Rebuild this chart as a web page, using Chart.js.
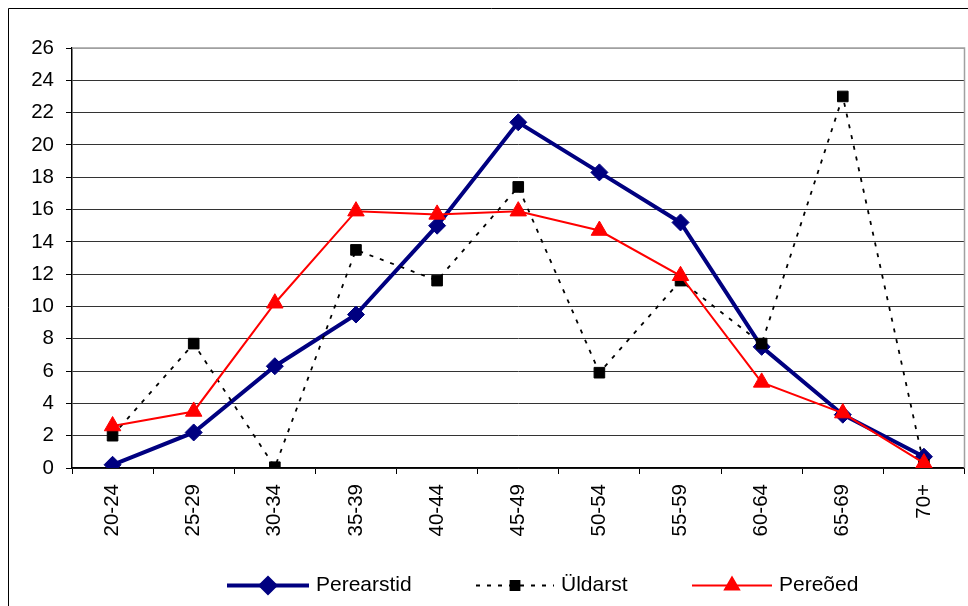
<!DOCTYPE html>
<html>
<head>
<meta charset="utf-8">
<script src="https://cdn.jsdelivr.net/npm/chart.js@4.4.0/dist/chart.umd.min.js"></script>
<style>
html, body { margin: 0; padding: 0; background: #fff; overflow: hidden; }
#wrap { width: 968px; height: 606px; overflow: hidden; }
</style>
</head>
<body>
<div id="wrap"><canvas id="ageChart" width="975" height="606"></canvas></div>
<script>
var ageGroups = ['20-24', '25-29', '30-34', '35-39', '40-44', '45-49', '50-54', '55-59', '60-64', '65-69', '70+']
var perearstid = [0.2, 2.2, 6.3, 9.5, 15.0, 21.4, 18.3, 15.2, 7.5, 3.3, 0.7]
var uldarst = [2.0, 7.7, 0.05, 13.5, 11.6, 17.4, 5.9, 11.6, 7.7, 23.0, 0.2]
var pereoed = [2.6, 3.5, 10.2, 15.9, 15.7, 15.9, 14.7, 11.9, 5.3, 3.4, 0.3]
var yTicks = { min: 0, max: 26, step: 2 }

var fontFamily = '"Liberation Sans", Arial, sans-serif'

// frame round the whole chart and grey border of the plot area
var framePlugin = {
  id: 'frame',
  beforeDraw: function (chart) {
    var ctx = chart.ctx
    ctx.save()
    ctx.fillStyle = '#fff'
    ctx.fillRect(0, 0, chart.width, chart.height)
    ctx.strokeStyle = '#000'
    ctx.lineWidth = 1
    ctx.beginPath()
    ctx.moveTo(8.5, chart.height)
    ctx.lineTo(8.5, 8.5)
    ctx.lineTo(chart.width, 8.5)
    ctx.stroke()
    ctx.restore()
  },
  afterDraw: function (chart) {
    var a = chart.chartArea
    var ctx = chart.ctx
    ctx.save()
    ctx.strokeStyle = '#a0a0a0'
    ctx.lineWidth = 1.5
    ctx.beginPath()
    ctx.moveTo(a.left, a.top)
    ctx.lineTo(a.right, a.top)
    ctx.lineTo(a.right, a.bottom)
    ctx.stroke()
    ctx.restore()
  }
}

// Excel-like legend: line sample with marker in the middle
var legendPlugin = {
  id: 'lineLegend',
  afterDraw: function (chart) {
    var ctx = chart.ctx
    var items = [
      { x: 227, w: 82 },
      { x: 476, w: 78 },
      { x: 692, w: 80 }
    ]
    var y = 585.5
    ctx.save()
    chart.data.datasets.forEach(function (ds, i) {
      var it = items[i]
      ctx.strokeStyle = ds.borderColor
      ctx.lineWidth = ds.borderWidth
      ctx.setLineDash(ds.borderDash || [])
      ctx.beginPath()
      ctx.moveTo(it.x, y)
      ctx.lineTo(it.x + it.w, y)
      ctx.stroke()
      ctx.setLineDash([])
      ctx.fillStyle = ds.pointBackgroundColor
      ctx.strokeStyle = ds.pointBorderColor
      Chart.helpers.drawPoint(ctx, {
        pointStyle: ds.pointStyle,
        radius: ds.pointRadius * 0.85,
        borderWidth: 1,
        rotation: 0
      }, it.x + it.w / 2, y)
      ctx.fillStyle = '#000'
      ctx.font = '21px ' + fontFamily
      ctx.textBaseline = 'middle'
      ctx.textAlign = 'left'
      ctx.fillText(ds.label, it.x + it.w + 7, y)
    })
    ctx.restore()
  }
}

var ctx = document.getElementById('ageChart').getContext('2d')

var ageChart = new Chart(ctx, {
  type: 'line',
  data: {
    labels: ageGroups,
    datasets: [
      {
        label: 'Perearstid',
        data: perearstid,
        borderColor: '#000080',
        backgroundColor: '#000080',
        borderWidth: 4,
        pointStyle: 'rectRot',
        pointRadius: 8.5,
        pointBackgroundColor: '#000080',
        pointBorderColor: '#000080',
        pointBorderWidth: 1,
        tension: 0,
        order: 3
      },
      {
        label: 'Üldarst',
        data: uldarst,
        borderColor: '#000',
        backgroundColor: '#000',
        borderWidth: 1.8,
        borderDash: [4, 7],
        pointStyle: 'rect',
        pointRadius: 7.5,
        pointBackgroundColor: '#000',
        pointBorderColor: '#000',
        pointBorderWidth: 1,
        tension: 0,
        order: 2
      },
      {
        label: 'Pereõed',
        data: pereoed,
        borderColor: '#ff0000',
        backgroundColor: '#ff0000',
        borderWidth: 2,
        pointStyle: 'triangle',
        pointRadius: 9.5,
        pointBackgroundColor: '#ff0000',
        pointBorderColor: '#ff0000',
        pointBorderWidth: 1,
        tension: 0,
        order: 1
      }
    ]
  },
  options: {
    responsive: false,
    animation: false,
    layout: {
      padding: { left: 0, top: 48, right: 4, bottom: 0 }
    },
    plugins: {
      legend: { display: false },
      tooltip: { enabled: false },
      title: { display: false }
    },
    scales: {
      x: {
        type: 'category',
        offset: true,
        grid: {
          offset: true,
          drawOnChartArea: false,
          drawTicks: true,
          tickLength: 6,
          tickColor: '#000'
        },
        border: { color: '#000', width: 1.5 },
        ticks: {
          color: '#000',
          font: { family: fontFamily, size: 20.5 },
          minRotation: 90,
          maxRotation: 90,
          padding: 10,
          autoSkip: false
        },
        afterFit: function (scale) {
          scale.height = 138
          scale.paddingLeft = 0
          scale.paddingRight = 0
        }
      },
      y: {
        min: yTicks.min,
        max: yTicks.max,
        grid: {
          color: function (c) {
            return c.tick && c.tick.value === yTicks.max ? '#a0a0a0' : '#333'
          },
          lineWidth: 1,
          tickLength: 6,
          tickColor: '#000'
        },
        border: { color: '#000', width: 1.5 },
        ticks: {
          stepSize: yTicks.step,
          color: '#000',
          font: { family: fontFamily, size: 20.5 },
          padding: 12
        },
        afterFit: function (scale) {
          scale.width = 72
          scale.paddingTop = 0
          scale.paddingBottom = 0
        }
      }
    }
  },
  plugins: [framePlugin, legendPlugin]
})
</script>
</body>
</html>
